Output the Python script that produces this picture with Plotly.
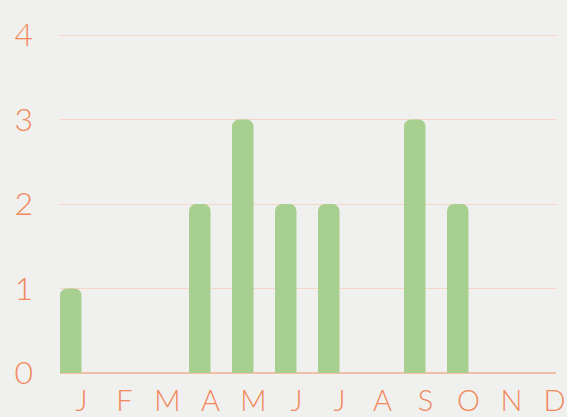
import plotly.graph_objects as go

months = ["J", "F", "M", "A", "M", "J", "J", "A", "S", "O", "N", "D"]
values = [1, 0, 0, 2, 3, 2, 2, 0, 3, 2, 0, 0]
y_ticks = [0, 1, 2, 3, 4]

xs = list(range(len(months)))
label_pos = [i + 0.25 for i in xs]

orange = "#f2875a"
green = "#a7cf8f"
bg = "#f0f0ee"
xfnt = dict(size=29, color=orange, family="Lato", weight=300)
yfnt = dict(size=32, color=orange, family="Lato", weight=300)

fig = go.Figure(go.Bar(
    x=xs, y=values, width=0.5,
    marker=dict(color=green, line=dict(width=0), cornerradius=7),
))
fig.update_layout(
    width=567, height=417,
    margin=dict(l=60, r=11, t=34, b=44, autoexpand=False),
    paper_bgcolor=bg, plot_bgcolor=bg,
    showlegend=False,
    font=xfnt,
)
fig.update_xaxes(
    range=[-0.25, 11.285],
    tickmode="array", tickvals=label_pos, ticktext=months,
    showgrid=False, zeroline=False, showline=False, ticks="",
    ticklabelstandoff=8, automargin=False,
    tickfont=xfnt,
)
fig.update_yaxes(
    range=[0, 4.012],
    tickmode="array", tickvals=y_ticks,
    showgrid=True, gridcolor="#f6d6c6", gridwidth=1,
    zeroline=True, zerolinecolor="#f2c0a8", zerolinewidth=1.5,
    showline=False, ticks="",
    ticklabelstandoff=26, automargin=False,
    tickfont=yfnt,
)
fig.write_html(
    "out.html",
    config={"displayModeBar": False},
    post_script="document.body.style.margin='0';document.body.style.overflow='hidden';",
)
